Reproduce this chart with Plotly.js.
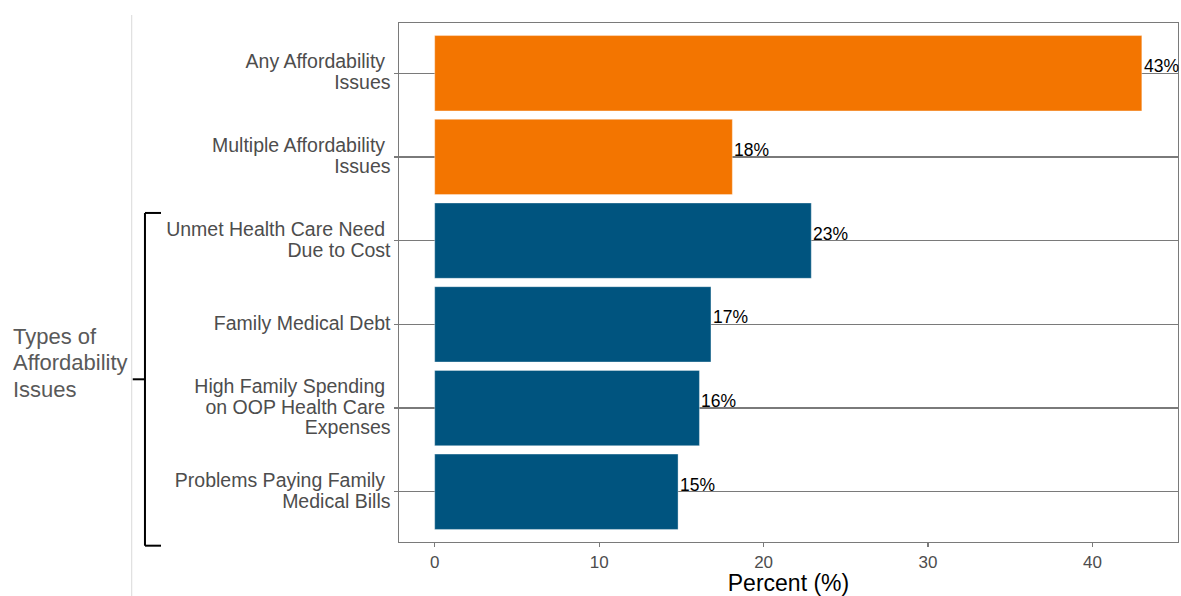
<!DOCTYPE html>
<html>
<head>
<meta charset="utf-8">
<script src="https://cdn.plot.ly/plotly-3.0.1.min.js"></script>
<style>
  html, body { margin: 0; padding: 0; background: #ffffff; }
  #chart { width: 1181px; height: 596px; }
</style>
</head>
<body>
<div id="chart"></div>
<script>
// ---- data ----
const categories = [
  "Any Affordability Issues",
  "Multiple Affordability Issues",
  "Unmet Health Care Need Due to Cost",
  "Family Medical Debt",
  "High Family Spending on OOP Health Care Expenses",
  "Problems Paying Family Medical Bills"
];
const tickLines = [
  ["Any Affordability\u00a0", "Issues"],
  ["Multiple Affordability\u00a0", "Issues"],
  ["Unmet Health Care Need\u00a0", "Due to Cost"],
  ["Family Medical Debt"],
  ["High Family Spending\u00a0", "on OOP Health Care\u00a0", "Expenses"],
  ["Problems Paying Family\u00a0", "Medical Bills"]
];
const values = [43.0, 18.1, 22.9, 16.8, 16.1, 14.8];
const valueLabels = ["43%", "18%", "23%", "17%", "16%", "15%"];
const groups = ["overall", "overall", "type", "type", "type", "type"];
const xTickVals = [0, 10, 20, 30, 40];
const groupTitleLines = ["Types of", "Affordability", "Issues"];

// ---- styles ----
const FONT = "Liberation Sans, Arial, Helvetica, sans-serif";
const groupColors = { overall: "#F37500", type: "#00547F" };
const GRAY = "#7a7a7a";
const TEXTGRAY = "#4d4d4d";

function spanLines(lines, px) {
  return lines.map(l => '<span style="font-size:' + px + 'px">' + l + '</span>').join('<br>');
}

const trace = {
  type: "bar",
  orientation: "h",
  x: values,
  y: categories,
  width: 0.9,
  marker: { color: groups.map(g => groupColors[g]), line: { color: "rgba(255,255,255,0.6)", width: 0.6 } },
  hoverinfo: "none",
  showlegend: false
};

const annotations = values.map((v, i) => ({
  x: v, y: categories[i], xref: "x", yref: "y",
  text: valueLabels[i], showarrow: false,
  xanchor: "left", yanchor: "bottom", xshift: 0, yshift: -5,
  font: { family: FONT, size: 17.5, color: "#000000" }
}));

annotations.push({
  x: -0.4953, y: 0.344, xref: "paper", yref: "paper",
  text: spanLines(groupTitleLines, 22), showarrow: false, align: "left",
  xanchor: "left", yanchor: "middle", xshift: -2,
  font: { family: FONT, size: 20.2, color: "#595959" }
});

const shapes = [
  // light divider
  { type: "line", xref: "paper", yref: "paper", x0: -0.3431, x1: -0.3431, y0: -0.11, y1: 1.0154,
    line: { color: "#d9d9d9", width: 1 } },
  // bracket
  { type: "line", xref: "paper", yref: "paper", x0: -0.3261, x1: -0.3261, y0: -0.0071, y1: 0.634,
    line: { color: "#000000", width: 2 } },
  { type: "line", xref: "paper", yref: "paper", x0: -0.3261, x1: -0.3055, y0: 0.634, y1: 0.634,
    line: { color: "#000000", width: 2 } },
  { type: "line", xref: "paper", yref: "paper", x0: -0.3261, x1: -0.3055, y0: -0.0071, y1: -0.0071,
    line: { color: "#000000", width: 2 } },
  { type: "line", xref: "paper", yref: "paper", x0: -0.3418, x1: -0.3261, y0: 0.3135, y1: 0.3135,
    line: { color: "#000000", width: 2 } }
];

const layout = {
  width: 1181, height: 596,
  margin: { l: 399, r: 3, t: 23, b: 54, pad: 0 },
  paper_bgcolor: "#ffffff", plot_bgcolor: "#ffffff",
  font: { family: FONT, color: TEXTGRAY },
  bargap: 0.1,
  xaxis: {
    range: [-2.17, 45.2],
    tickvals: xTickVals,
    ticktext: xTickVals.map(String),
    ticks: "outside", ticklen: 4, tickwidth: 1.2, tickcolor: GRAY,
    tickfont: { family: FONT, size: 17, color: TEXTGRAY },
    showgrid: false, zeroline: false,
    showline: true, linecolor: GRAY, linewidth: 1.3, mirror: true,
    title: { text: "Percent (%)", standoff: 3, font: { family: FONT, size: 23, color: "#000000" } },
    fixedrange: true
  },
  yaxis: {
    type: "category",
    categoryorder: "array", categoryarray: categories,
    range: [5.6, -0.6],
    tickvals: categories,
    ticktext: tickLines.map(ls => spanLines(ls, 19.5)),
    ticks: "outside", ticklen: 4, tickwidth: 1.2, tickcolor: GRAY,
    tickfont: { family: FONT, size: 16, color: TEXTGRAY },
    ticklabelshift: -2.5,
    showgrid: true, gridcolor: GRAY, gridwidth: 1.4,
    zeroline: false,
    showline: true, linecolor: GRAY, linewidth: 1.3, mirror: true,
    fixedrange: true
  },
  annotations: annotations,
  shapes: shapes
};

Plotly.newPlot("chart", [trace], layout, { displayModeBar: false, staticPlot: true });
</script>
</body>
</html>
